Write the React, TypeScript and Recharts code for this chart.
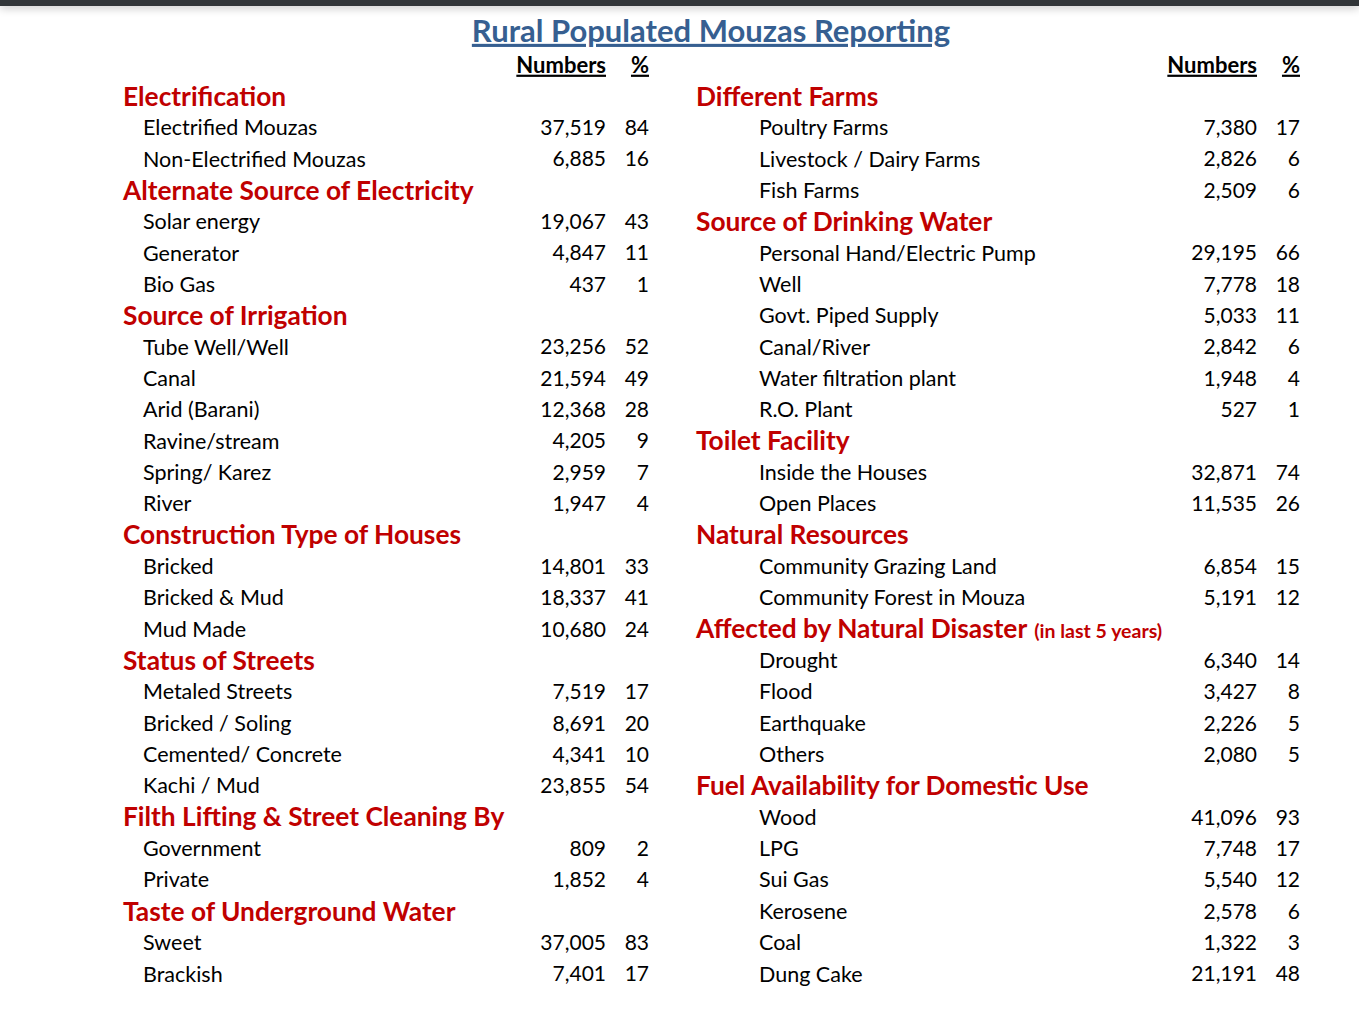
import { ScatterChart, Scatter, XAxis, YAxis } from 'recharts';

const FONT = 'Lato, "Noto Sans", sans-serif';
const RED = '#C00000';
const BLUE = '#365F91';

const title = 'Rural Populated Mouzas Reporting';
const colHeads = ['Numbers', '%'];

// left column
const electrification = [
  ['Electrified Mouzas', 37519, 84],
  ['Non-Electrified Mouzas', 6885, 16],
];
const altElectricity = [
  ['Solar energy', 19067, 43],
  ['Generator', 4847, 11],
  ['Bio Gas', 437, 1],
];
const irrigation = [
  ['Tube Well/Well', 23256, 52],
  ['Canal', 21594, 49],
  ['Arid (Barani)', 12368, 28],
  ['Ravine/stream', 4205, 9],
  ['Spring/ Karez', 2959, 7],
  ['River', 1947, 4],
];
const houses = [
  ['Bricked', 14801, 33],
  ['Bricked & Mud', 18337, 41],
  ['Mud Made', 10680, 24],
];
const streets = [
  ['Metaled Streets', 7519, 17],
  ['Bricked / Soling', 8691, 20],
  ['Cemented/ Concrete', 4341, 10],
  ['Kachi / Mud', 23855, 54],
];
const filth = [
  ['Government', 809, 2],
  ['Private', 1852, 4],
];
const taste = [
  ['Sweet', 37005, 83],
  ['Brackish', 7401, 17],
];

// right column
const farms = [
  ['Poultry Farms', 7380, 17],
  ['Livestock / Dairy Farms', 2826, 6],
  ['Fish Farms', 2509, 6],
];
const drinkingWater = [
  ['Personal Hand/Electric Pump', 29195, 66],
  ['Well', 7778, 18],
  ['Govt. Piped Supply', 5033, 11],
  ['Canal/River', 2842, 6],
  ['Water filtration plant', 1948, 4],
  ['R.O. Plant', 527, 1],
];
const toilet = [
  ['Inside the Houses', 32871, 74],
  ['Open Places', 11535, 26],
];
const resources = [
  ['Community Grazing Land', 6854, 15],
  ['Community Forest in Mouza', 5191, 12],
];
const disaster = [
  ['Drought', 6340, 14],
  ['Flood', 3427, 8],
  ['Earthquake', 2226, 5],
  ['Others', 2080, 5],
];
const fuel = [
  ['Wood', 41096, 93],
  ['LPG', 7748, 17],
  ['Sui Gas', 5540, 12],
  ['Kerosene', 2578, 6],
  ['Coal', 1322, 3],
  ['Dung Cake', 21191, 48],
];

const leftSections = [
  ['Electrification', electrification],
  ['Alternate Source of Electricity', altElectricity],
  ['Source of Irrigation', irrigation],
  ['Construction Type of Houses', houses],
  ['Status of Streets', streets],
  ['Filth Lifting & Street Cleaning By', filth],
  ['Taste of Underground Water', taste],
];
const rightSections = [
  ['Different Farms', farms],
  ['Source of Drinking Water', drinkingWater],
  ['Toilet Facility', toilet],
  ['Natural Resources', resources],
  ['Affected by Natural Disaster', disaster, '(in last 5 years)'],
  ['Fuel Availability for Domestic Use', fuel],
];

// column layout (x of heading start, indent of items, right edges of numbers / %)
const leftCol = { x: 123, indent: 20, numRight: 483, pctRight: 526 };
const rightCol = { x: 696, indent: 63, numRight: 561, pctRight: 604 };

function buildRows(sections: any[], col: any) {
  const rows: any[] = [{ row: -1, x: col.x, kind: 'cols', col }];
  let row = 0;
  sections.forEach(([head, items, note]) => {
    rows.push({ row, x: col.x, kind: 'head', label: head, note, col });
    row++;
    items.forEach(([label, num, pct]: any[]) => {
      rows.push({ row, x: col.x, kind: 'item', label, num, pct, col });
      row++;
    });
  });
  return rows;
}

const leftRows = buildRows(leftSections, leftCol);
const rightRows = buildRows(rightSections, rightCol);

const RowShape = (props: any) => {
  const { cx, cy, payload } = props;
  const col = payload.col;
  if (payload.kind === 'cols') {
    return (
      <g fontFamily={FONT} fontWeight={700} fontSize={22} fill="#000">
        <text x={cx + col.numRight} y={cy} dy="0.35em" textAnchor="end" style={{ textDecoration: 'underline' }}>
          {colHeads[0]}
        </text>
        <text x={cx + col.pctRight} y={cy} dy="0.35em" textAnchor="end" style={{ textDecoration: 'underline' }}>
          {colHeads[1]}
        </text>
      </g>
    );
  }
  if (payload.kind === 'head') {
    return (
      <text x={cx} y={cy} dy="0.35em" fontFamily={FONT} fontWeight={700} fontSize={26.3} fill={RED}>
        {payload.label}
        {payload.note ? (
          <tspan fontSize={19.5} dx={7}>
            {payload.note}
          </tspan>
        ) : null}
      </text>
    );
  }
  return (
    <g fontFamily={FONT} fontSize={21.5} fill="#000">
      <text x={cx + col.indent} y={cy} dy="0.35em">
        {payload.label}
      </text>
      <text x={cx + col.numRight} y={cy} dy="0.35em" textAnchor="end" fontSize={21}>
        {payload.num.toLocaleString('en-US')}
      </text>
      <text x={cx + col.pctRight} y={cy} dy="0.35em" textAnchor="end" fontSize={21}>
        {payload.pct}
      </text>
    </g>
  );
};

export default function App() {
  return (
    <div style={{ position: 'absolute', left: 0, top: 0, width: 1359, height: 1019, background: '#fff' }}>
      <div
        style={{
          position: 'absolute',
          left: 0,
          top: 0,
          width: 1359,
          height: 6,
          background: '#323639',
          boxShadow: '0 2px 8px rgba(0,0,0,0.25)',
        }}
      />
      <ScatterChart width={1359} height={1019} margin={{ top: 65, bottom: 45, left: 0, right: 0 }}>
        <XAxis type="number" dataKey="x" domain={[0, 1359]} hide />
        <YAxis type="number" dataKey="row" domain={[-1, 28]} reversed hide />
        <text
          x={711}
          y={31}
          dy="0.35em"
          textAnchor="middle"
          fontFamily={FONT}
          fontWeight={700}
          fontSize={31}
          fill={BLUE}
          style={{ textDecoration: 'underline' }}
        >
          {title}
        </text>
        <Scatter data={leftRows} shape={RowShape} isAnimationActive={false} />
        <Scatter data={rightRows} shape={RowShape} isAnimationActive={false} />
      </ScatterChart>
    </div>
  );
}
